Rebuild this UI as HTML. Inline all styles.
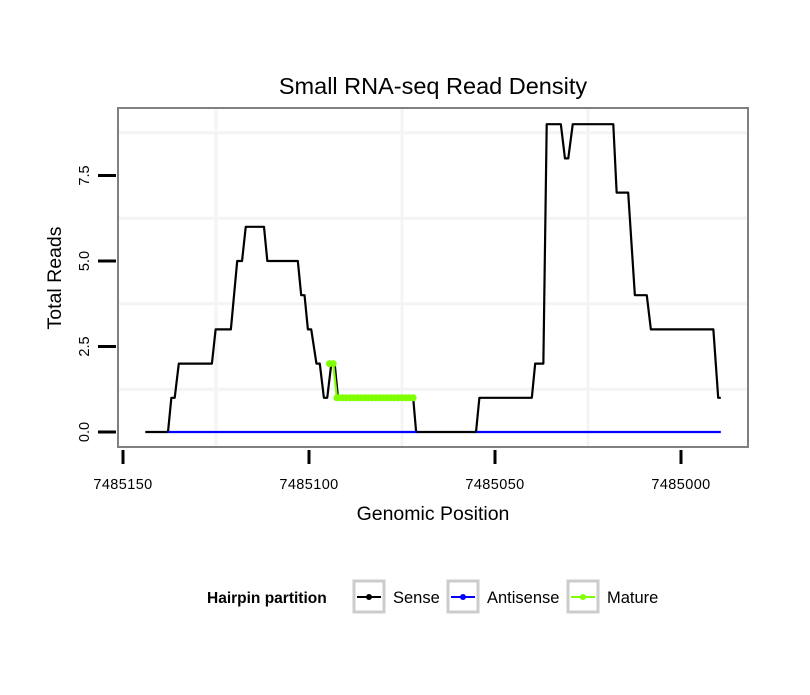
<!DOCTYPE html>
<html><head><meta charset="utf-8"><style>
body{margin:0;background:#fff;font-family:"Liberation Sans",sans-serif}
</style></head><body>
<svg id="chart" width="810" height="690" xmlns="http://www.w3.org/2000/svg" font-family="Liberation Sans, sans-serif">
<rect width="810" height="690" fill="#fff"/>
<text x="433" y="94" font-size="23.5" text-anchor="middle">Small RNA-seq Read Density</text>
<g id="grid"></g>
<g id="series"></g>
<rect x="118" y="108" width="630" height="339" fill="none" stroke="#808080" stroke-width="2"/>
<g id="axes"></g>
<text x="433" y="520" font-size="19.5" text-anchor="middle">Genomic Position</text>
<text transform="translate(61,278) rotate(-90)" font-size="19.5" text-anchor="middle">Total Reads</text>
<g>
<text x="207" y="603" font-size="15.5" font-weight="bold">Hairpin partition</text>
<g>
<rect x="354" y="581" width="30" height="31" fill="#fff" stroke="#ccc" stroke-width="3"/>
<line x1="357" y1="597" x2="381" y2="597" stroke="#000" stroke-width="2"/><circle cx="369" cy="597" r="3" fill="#000"/>
<text x="393" y="603" font-size="16.5">Sense</text></g>
<g>
<rect x="448" y="581" width="30" height="31" fill="#fff" stroke="#ccc" stroke-width="3"/>
<line x1="451" y1="597" x2="475" y2="597" stroke="#00f" stroke-width="2"/><circle cx="463" cy="597" r="3" fill="#00f"/>
<text x="487" y="603" font-size="16.5">Antisense</text></g>
<g>
<rect x="568" y="581" width="30" height="31" fill="#fff" stroke="#ccc" stroke-width="3"/>
<line x1="571" y1="597" x2="595" y2="597" stroke="#7fff00" stroke-width="2"/><circle cx="583" cy="597" r="3" fill="#7fff00"/>
<text x="607" y="603" font-size="16.5">Mature</text></g>
</g>
</svg>
<script>
const senseX=[7485144,7485137.9,7485137,7485136.1,7485135,7485126.1,7485125.1,7485121,7485119.3,7485118,7485117,7485112.1,7485111.2,7485103,7485102.1,7485101.2,7485100.3,7485099.4,7485098,7485097.1,7485096,7485095.1,7485094,7485093.1,7485092.2,7485072,7485071.2,7485055.1,7485054.2,7485040.1,7485039.2,7485037,7485036.1,7485032.3,7485031.2,7485030.3,7485029.1,7485018.2,7485017.3,7485014.2,7485013,7485012.4,7485009.2,7485008.1,7484991.3,7484990,7484989.3];
const senseY=[0,0,1,1,2,2,3,3,5,5,6,6,5,5,4,4,3,3,2,2,1,1,2,2,1,1,0,0,1,1,2,2,9,9,8,8,9,9,7,7,5,4,4,3,3,1,1];
const antiX=[7485138,7485071,7485055,7484989.3];
const antiY=[0,0,0,0];
const matureX=[7485094.5,7485093.5,7485092.5,7485092,7485091,7485090,7485089,7485088,7485087,7485086,7485085,7485084,7485083,7485082,7485081,7485080,7485079,7485078,7485077,7485076,7485075,7485074,7485073,7485072];
const matureY=[2,2,1,1,1,1,1,1,1,1,1,1,1,1,1,1,1,1,1,1,1,1,1,1];
const xTicks=[7485150,7485100,7485050,7485000];
const xTickLabels=["7485150","7485100","7485050","7485000"];
const yTicks=[0,2.5,5,7.5];
const yTickLabels=["0.0","2.5","5.0","7.5"];
const NS="http://www.w3.org/2000/svg";
const X=v=>123+(7485150-v)*3.72;
const Y=v=>432-v*34.2;
function mk(t,a,p){const e=document.createElementNS(NS,t);for(const k in a)e.setAttribute(k,a[k]);p.appendChild(e);return e;}
const grid=document.getElementById('grid'),series=document.getElementById('series'),axes=document.getElementById('axes');
for(let i=0;i<xTicks.length-1;i++){
 const m=mk('line',{x1:X(xTicks[i]-25),x2:X(xTicks[i]-25),y1:108,y2:447,stroke:'#f4f4f4','stroke-width':3},grid);
 
 
}
for(let i=0;i<yTicks.length;i++){
 const m=mk('line',{x1:118,x2:748,y1:Y(yTicks[i]+1.25),y2:Y(yTicks[i]+1.25),stroke:'#f4f4f4','stroke-width':3},grid);
 
 
}
for(let i=0;i<xTicks.length;i++){
 const t=mk('line',{x1:X(xTicks[i]),x2:X(xTicks[i]),y1:450,y2:464,stroke:'#000','stroke-width':3},axes);
 
 
 const l=mk('text',{x:X(xTicks[i]),y:489,'font-size':14.5,'text-anchor':'middle','letter-spacing':'0.4'},axes);l.textContent=xTickLabels[i];
 
 
}
for(let i=0;i<yTicks.length;i++){
 const t=mk('line',{x1:98,x2:116,y1:Y(yTicks[i]),y2:Y(yTicks[i]),stroke:'#000','stroke-width':3},axes);
 
 
 const l=mk('text',{transform:`translate(89,${Y(yTicks[i])}) rotate(-90)`,'font-size':14.5,'text-anchor':'middle'},axes);l.textContent=yTickLabels[i];
 
 
}
function line(xs,ys,col,name){
 const p=mk('polyline',{points:xs.map((v,i)=>X(v)+','+Y(ys[i])).join(' '),fill:'none',stroke:col,'stroke-width':2.2,'stroke-linejoin':'round'},series);
 
 
}
line(senseX,senseY,'#000','sense-line');
line(antiX.slice(0,2),antiY.slice(0,2),'#00f','antisense-line');
line(antiX.slice(2),antiY.slice(2),'#00f','antisense-line-2');
line(matureX,matureY,'#7fff00','mature-line');
matureX.forEach((v,i)=>{const c=mk('circle',{cx:X(v),cy:Y(matureY[i]),r:3.5,fill:'#7fff00'},series);
 
 });
</script>
</body></html>
